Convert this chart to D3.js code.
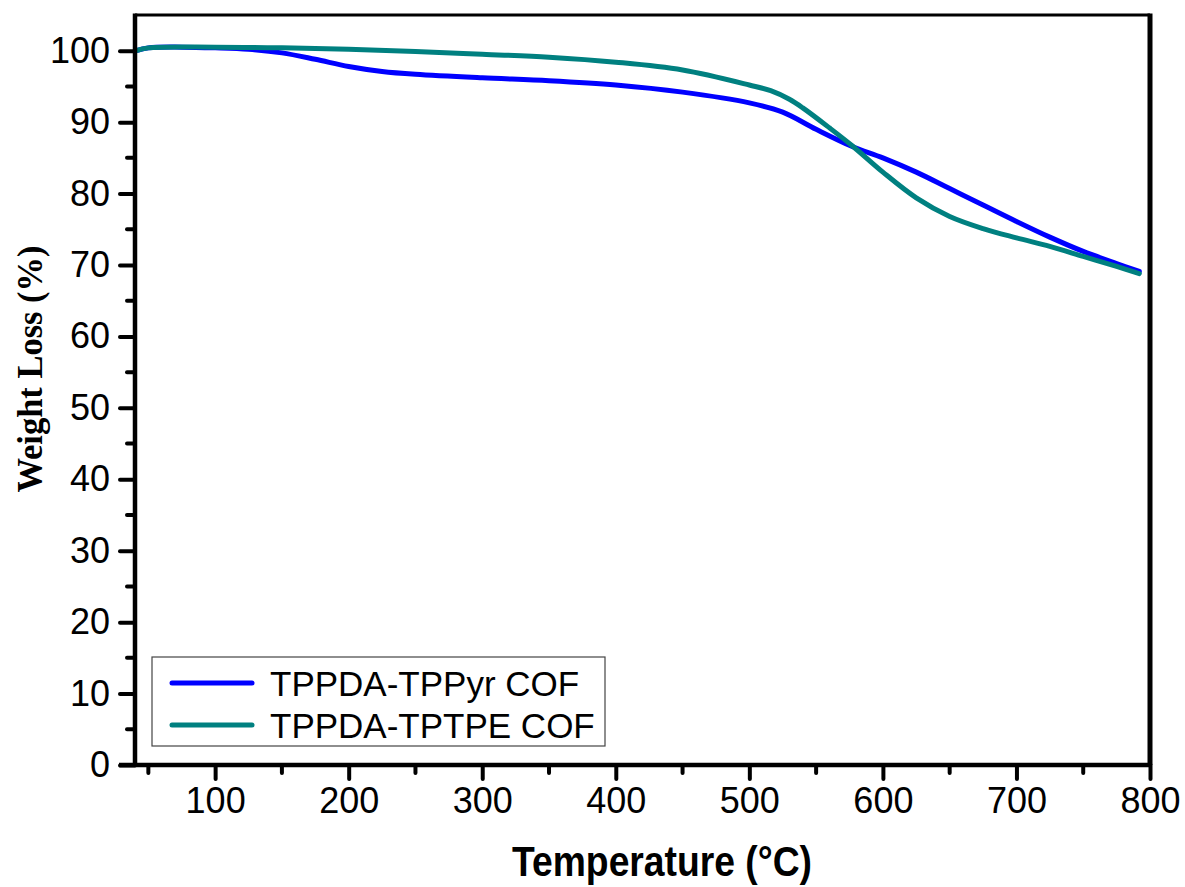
<!DOCTYPE html>
<html>
<head>
<meta charset="utf-8">
<script src="https://cdn.jsdelivr.net/npm/d3@7"></script>
<style>
  body { margin: 0; background: #fff; }
  svg { display: block; }
</style>
</head>
<body>
<div id="chart"></div>
<script>
// TGA curves
var seriesNames = ["TPPDA-TPPyr COF", "TPPDA-TPTPE COF"];
var seriesColors = ["#0000ff", "#008080"];

var tppyrTemp = [41, 50, 75, 100, 125, 150, 175, 200, 225, 250, 300, 350, 400, 450, 500, 525, 550, 577, 600, 625, 650, 675, 700, 725, 750, 775, 792];
var tppyrWeight = [100.0, 100.4, 100.5, 100.4, 100.2, 99.7, 98.8, 97.8, 97.1, 96.7, 96.2, 95.8, 95.2, 94.2, 92.7, 91.4, 89.0, 86.6, 85.0, 83.0, 80.7, 78.4, 76.1, 73.9, 71.9, 70.2, 69.1];

var tptpeTemp = [41, 50, 100, 150, 200, 250, 300, 350, 400, 450, 500, 516, 530, 540, 560, 577, 600, 625, 650, 675, 700, 725, 750, 775, 792];
var tptpeWeight = [100.0, 100.4, 100.5, 100.4, 100.2, 99.9, 99.5, 99.1, 98.4, 97.3, 95.2, 94.4, 93.2, 92.0, 89.2, 86.7, 83.0, 79.4, 76.8, 75.1, 73.8, 72.6, 71.2, 69.8, 68.8];

var xTicks = [100, 200, 300, 400, 500, 600, 700, 800];
var xMinor = [50, 150, 250, 350, 450, 550, 650, 750];
var yTicks = [0, 10, 20, 30, 40, 50, 60, 70, 80, 90, 100];
var yMinor = [5, 15, 25, 35, 45, 55, 65, 75, 85, 95];

var W = 1185, H = 887;
var pLeft = 135, pRight = 1150, pTop = 15, pBottom = 765;

var svg = d3.select("#chart").append("svg")
    .attr("width", W)
    .attr("height", H);

var x = d3.scaleLinear().domain([40, 800]).range([pLeft, pRight]);
var y = d3.scaleLinear().domain([0, 105]).range([pBottom, pTop]);

var series = [
  { name: seriesNames[0], color: seriesColors[0], pts: d3.zip(tppyrTemp, tppyrWeight) },
  { name: seriesNames[1], color: seriesColors[1], pts: d3.zip(tptpeTemp, tptpeWeight) }
];

var line = d3.line()
    .x(function(d) { return x(d[0]); })
    .y(function(d) { return y(d[1]); })
    .curve(d3.curveCatmullRom.alpha(0.5));

svg.selectAll("path.curve")
    .data(series)
    .enter()
    .append("path")
    .attr("class", "curve")
    .attr("fill", "none")
    .attr("stroke", function(d) { return d.color; })
    .attr("stroke-width", 5)
    .attr("stroke-linecap", "round")
    .attr("d", function(d) { return line(d.pts); });

// frame
svg.append("line").attr("x1", pLeft).attr("x2", pRight).attr("y1", pTop).attr("y2", pTop)
    .attr("stroke", "#000").attr("stroke-width", 3);
svg.append("line").attr("x1", pRight).attr("x2", pRight).attr("y1", pTop - 1.5).attr("y2", pBottom)
    .attr("stroke", "#000").attr("stroke-width", 5);

// axes
var font = "'Liberation Sans', Arial, sans-serif";

var xAxis = svg.append("g")
    .attr("transform", "translate(0," + pBottom + ")")
    .call(d3.axisBottom(x).tickValues(xTicks).tickSize(14).tickPadding(8).tickFormat(d3.format("d")));
var yAxis = svg.append("g")
    .attr("transform", "translate(" + pLeft + ",0)")
    .call(d3.axisLeft(y).tickValues(yTicks).tickSize(15).tickPadding(10).tickFormat(d3.format("d")));

[xAxis, yAxis].forEach(function(g) {
  g.select(".domain").attr("stroke", "#000").attr("stroke-width", 4.5);
  g.selectAll(".tick line").attr("stroke", "#000").attr("stroke-width", 4).attr("stroke-linecap", "round");
  g.selectAll(".tick text").attr("fill", "#000").style("font-family", font).style("font-size", "36px");
});
xAxis.select(".domain").attr("d", "M" + (pLeft - 16) + ",0H" + (pRight + 2));
yAxis.select(".domain").attr("d", "M0," + (pBottom + 2) + "V" + (pTop - 1.5));

svg.append("g").selectAll("line")
    .data(xMinor)
    .enter()
    .append("line")
    .attr("x1", function(d) { return x(d); })
    .attr("x2", function(d) { return x(d); })
    .attr("y1", pBottom)
    .attr("y2", pBottom + 8)
    .attr("stroke", "#000").attr("stroke-width", 4).attr("stroke-linecap", "round");

svg.append("g").selectAll("line")
    .data(yMinor)
    .enter()
    .append("line")
    .attr("x1", pLeft - 8)
    .attr("x2", pLeft)
    .attr("y1", function(d) { return y(d); })
    .attr("y2", function(d) { return y(d); })
    .attr("stroke", "#000").attr("stroke-width", 4).attr("stroke-linecap", "round");

// titles
svg.append("text")
    .attr("x", 662)
    .attr("y", 876)
    .attr("text-anchor", "middle")
    .attr("textLength", 300)
    .attr("lengthAdjust", "spacingAndGlyphs")
    .style("font-family", font)
    .style("font-weight", "bold")
    .style("font-size", "42px")
    .text("Temperature (°C)");

svg.append("text")
    .attr("transform", "translate(42,369) rotate(-90)")
    .attr("text-anchor", "middle")
    .attr("textLength", 247)
    .attr("lengthAdjust", "spacingAndGlyphs")
    .style("font-family", "'Liberation Serif', 'Times New Roman', serif")
    .style("font-weight", "bold")
    .style("font-size", "35px")
    .text("Weight Loss (%)");

// legend
var legend = svg.append("g");
legend.append("rect")
    .attr("x", 152).attr("y", 657).attr("width", 453).attr("height", 89)
    .attr("fill", "#fff").attr("stroke", "#444").attr("stroke-width", 1.2);

var rows = legend.selectAll("g.row")
    .data(series)
    .enter()
    .append("g")
    .attr("class", "row")
    .attr("transform", function(d, i) { return "translate(0," + (683 + i * 42) + ")"; });
rows.append("line")
    .attr("x1", 172).attr("x2", 252)
    .attr("stroke", function(d) { return d.color; })
    .attr("stroke-width", 5)
    .attr("stroke-linecap", "round");
rows.append("text")
    .attr("x", 270)
    .attr("dy", "0.36em")
    .style("font-family", font)
    .style("font-size", "35px")
    .text(function(d) { return d.name; });
</script>
</body>
</html>
